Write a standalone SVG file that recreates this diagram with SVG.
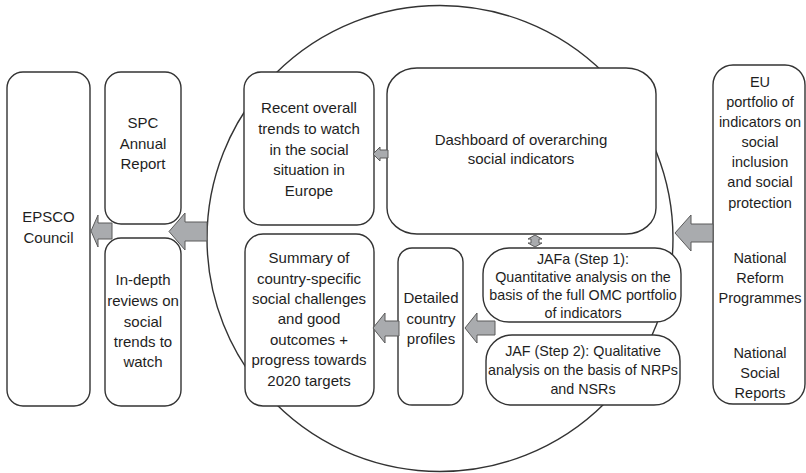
<svg xmlns="http://www.w3.org/2000/svg" width="806" height="473" viewBox="0 0 806 473">
  <style>
    .box { fill: #ffffff; stroke: #333333; stroke-width: 1.4; }
    .ring { fill: none; stroke: #333333; stroke-width: 1.4; }
    .arrow { fill: #a9abae; stroke: #5a5a5a; stroke-width: 1; stroke-linejoin: miter; }
    text { font-family: "Liberation Sans", Arial, sans-serif; fill: #1e1e1e; text-anchor: middle; }
    .t15 { font-size: 15px; }
    .t145 { font-size: 14.5px; }
    .t14 { font-size: 14.3px; }
  </style>
  <rect width="806" height="473" fill="#ffffff"/>

  <!-- OMC cycle ring behind the inner boxes -->
  <circle class="ring" cx="440" cy="238.5" r="233"/>

  <g id="epsco">
    <rect class="box" x="7" y="72" width="83" height="334" rx="16"/>
    <text class="t15" x="48.5" y="222">EPSCO</text>
    <text class="t15" x="48.5" y="243">Council</text>
  </g>

  <g id="spc-report">
    <rect class="box" x="105" y="72" width="76" height="152" rx="16"/>
    <text class="t15" x="143" y="128">SPC</text>
    <text class="t15" x="143" y="149">Annual</text>
    <text class="t15" x="143" y="169">Report</text>
  </g>

  <g id="in-depth">
    <rect class="box" x="105" y="238" width="76" height="168" rx="16"/>
    <text class="t15" x="143" y="285">In-depth</text>
    <text class="t15" x="143" y="306">reviews on</text>
    <text class="t15" x="143" y="327">social</text>
    <text class="t15" x="143" y="347">trends to</text>
    <text class="t15" x="143" y="367">watch</text>
  </g>

  <g id="recent-trends">
    <rect class="box" x="244" y="72" width="130" height="153" rx="17"/>
    <text class="t15" x="309" y="113">Recent overall</text>
    <text class="t15" x="309" y="134">trends to watch</text>
    <text class="t15" x="309" y="155">in the social</text>
    <text class="t15" x="309" y="175">situation in</text>
    <text class="t15" x="309" y="196">Europe</text>
  </g>

  <g id="dashboard">
    <rect class="box" x="387" y="68" width="269" height="166" rx="30" ry="26"/>
    <text class="t15" x="521" y="145">Dashboard of overarching</text>
    <text class="t15" x="521" y="164">social indicators</text>
  </g>

  <g id="summary">
    <rect class="box" x="245" y="234" width="129" height="172" rx="18"/>
    <text class="t15" x="309" y="263">Summary of</text>
    <text class="t15" x="309" y="284">country-specific</text>
    <text class="t15" x="309" y="304">social challenges</text>
    <text class="t15" x="309" y="324">and good</text>
    <text class="t15" x="309" y="345">outcomes +</text>
    <text class="t15" x="309" y="365">progress towards</text>
    <text class="t15" x="309" y="386">2020 targets</text>
  </g>

  <g id="country-profiles">
    <rect class="box" x="398" y="248" width="65" height="157" rx="14"/>
    <text class="t15" x="431" y="303">Detailed</text>
    <text class="t15" x="431" y="324">country</text>
    <text class="t15" x="431" y="344">profiles</text>
  </g>

  <g id="jafa">
    <rect class="box" x="483" y="248" width="198" height="74" rx="26"/>
    <text class="t14" x="583" y="264">JAFa (Step 1):</text>
    <text class="t14" x="583" y="282">Quantitative analysis on the</text>
    <text class="t14" x="583" y="300">basis of the full OMC portfolio</text>
    <text class="t14" x="583" y="318">of indicators</text>
  </g>

  <g id="jaf">
    <rect class="box" x="486" y="335" width="194" height="70" rx="26"/>
    <text class="t14" x="583" y="356">JAF (Step 2): Qualitative</text>
    <text class="t14" x="583" y="375">analysis on the basis of NRPs</text>
    <text class="t14" x="583" y="394">and NSRs</text>
  </g>

  <g id="sources">
    <rect class="box" x="713" y="65" width="92" height="339" rx="20"/>
    <text class="t145" x="760" y="87">EU</text>
    <text class="t145" x="760" y="107">portfolio of</text>
    <text class="t145" x="760" y="127">indicators on</text>
    <text class="t145" x="760" y="147">social</text>
    <text class="t145" x="760" y="167">inclusion</text>
    <text class="t145" x="760" y="187">and social</text>
    <text class="t145" x="760" y="208">protection</text>
    <text class="t145" x="760" y="263">National</text>
    <text class="t145" x="760" y="283">Reform</text>
    <text class="t145" x="760" y="303">Programmes</text>
    <text class="t145" x="760" y="358">National</text>
    <text class="t145" x="760" y="378">Social</text>
    <text class="t145" x="760" y="398">Reports</text>
  </g>

  <!-- block arrows -->
  <g id="connectors">
    <path class="arrow" d="M91,231 L98,215 L98,223 L112,223 L112,239 L98,239 L98,247 Z"/>
    <path class="arrow" d="M169,231.5 L185,213 L185,222 L207,222 L207,241 L185,241 L185,250 Z"/>
    <path class="arrow" d="M373,154 L380,147 L380,150 L388,150 L388,158 L380,158 L380,161 Z"/>
    <path class="arrow" d="M373,328 L385,313 L385,321 L399,321 L399,336 L385,336 L385,343 Z"/>
    <path class="arrow" d="M465,328 L477,313 L477,321 L495,321 L495,335 L477,335 L477,343 Z"/>
    <path class="arrow" d="M675,233 L691,215 L691,224 L713,224 L713,242 L691,242 L691,251 Z"/>
    <path class="arrow" d="M535,235 L542,239 L539,239 L539,243 L542,243 L535,247 L528,243 L531,243 L531,239 L528,239 Z"/>
  </g>
</svg>
